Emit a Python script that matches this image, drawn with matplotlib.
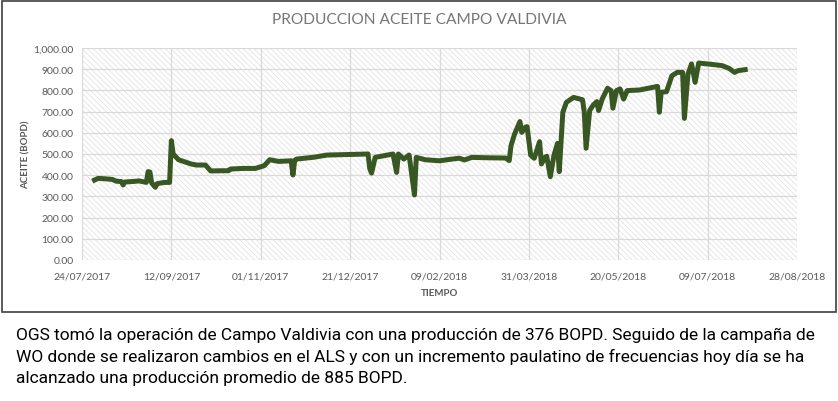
import numpy as np
import pandas as pd
import matplotlib
matplotlib.use('Agg')
import matplotlib.pyplot as plt
import matplotlib.dates as mdates
from matplotlib.patches import Rectangle
from matplotlib.ticker import FuncFormatter, MultipleLocator

# produccion diaria de aceite
fechas = ['2017-07-31', '2017-08-02', '2017-08-06', '2017-08-10', '2017-08-12',
          '2017-08-15', '2017-08-16', '2017-08-17', '2017-08-21', '2017-08-25',
          '2017-08-29', '2017-08-30', '2017-08-31', '2017-09-01', '2017-09-03',
          '2017-09-04', '2017-09-08', '2017-09-11', '2017-09-12', '2017-09-13',
          '2017-09-16', '2017-09-23', '2017-09-26', '2017-10-01', '2017-10-04',
          '2017-10-10', '2017-10-14', '2017-10-15', '2017-10-22', '2017-10-29',
          '2017-11-03', '2017-11-06', '2017-11-11', '2017-11-18', '2017-11-19',
          '2017-11-20', '2017-11-21', '2017-12-01', '2017-12-08', '2017-12-31',
          '2018-01-01', '2018-01-02', '2018-01-04', '2018-01-14', '2018-01-16',
          '2018-01-17', '2018-01-20', '2018-01-23', '2018-01-26', '2018-01-27',
          '2018-02-01', '2018-02-09', '2018-02-16', '2018-02-20', '2018-02-23',
          '2018-02-27', '2018-03-09', '2018-03-18', '2018-03-20', '2018-03-21',
          '2018-03-23', '2018-03-26', '2018-03-27', '2018-03-29', '2018-03-30',
          '2018-04-01', '2018-04-03', '2018-04-06', '2018-04-07', '2018-04-09',
          '2018-04-10', '2018-04-12', '2018-04-14', '2018-04-16', '2018-04-17',
          '2018-04-19', '2018-04-21', '2018-04-25', '2018-04-30', '2018-05-01',
          '2018-05-02', '2018-05-04', '2018-05-06', '2018-05-08', '2018-05-09',
          '2018-05-11', '2018-05-14', '2018-05-16', '2018-05-17', '2018-05-19',
          '2018-05-21', '2018-05-23', '2018-05-25', '2018-06-01', '2018-06-11',
          '2018-06-12', '2018-06-13', '2018-06-16', '2018-06-19', '2018-06-22',
          '2018-06-25', '2018-06-26', '2018-06-28', '2018-06-30', '2018-07-02',
          '2018-07-04', '2018-07-11', '2018-07-17', '2018-07-21', '2018-07-24',
          '2018-07-26', '2018-07-30']
aceite = [377, 385, 383, 380, 372,
          370, 354, 368, 370, 373,
          366, 417, 415, 363, 343,
          360, 366, 366, 563, 500,
          473, 453, 448, 448, 420,
          421, 421, 429, 432, 432,
          445, 473, 465, 468, 401,
          470, 476, 485, 495, 500,
          430, 410, 484, 500, 413,
          500, 476, 495, 307, 484,
          473, 468, 476, 480, 472,
          484, 482, 481, 469, 539,
          594, 653, 602, 626, 629,
          495, 480, 558, 453, 484,
          489, 393, 492, 550, 417,
          697, 744, 767, 756, 697,
          527, 705, 731, 747, 705,
          759, 810, 799, 716, 799,
          807, 759, 799, 802, 819,
          697, 791, 794, 869, 885,
          885, 668, 877, 925, 838,
          929, 923, 917, 904, 885,
          893, 898]

fecha_ini, fecha_fin = '2017-07-24', '2018-08-28'
lineas = ['OGS tomó la operación de Campo Valdivia con una producción de 376 BOPD. Seguido de la campaña de',
          'WO donde se realizaron cambios en el ALS y con un incremento paulatino de frecuencias hoy día se ha',
          'alcanzado una producción promedio de 885 BOPD.']

plt.rcParams['font.family'] = ['Lato', 'DejaVu Sans']
plt.rcParams['hatch.linewidth'] = 0.6

fig = plt.figure(figsize=(8.38, 4.02), dpi=100)
W, H = 838, 402
ax = fig.add_axes([82 / W, 1 - 261 / H, 715 / W, 212 / H])

# marco del grafico
fig.patches.append(Rectangle((1.5 / W, 1 - 313 / H), 834 / W, 311 / H, transform=fig.transFigure,
                             fill=False, edgecolor='#3f3f3f', linewidth=1.2))

x = pd.to_datetime(fechas)
x0, x1 = pd.Timestamp(fecha_ini), pd.Timestamp(fecha_fin)

ax.add_patch(Rectangle((0, 0), 1, 1, transform=ax.transAxes, facecolor='white',
                       edgecolor='#e3e3e3', hatch='\\\\\\\\\\\\', linewidth=0, zorder=0))
ax.plot(x, aceite, color='#385723', linewidth=3.6, solid_joinstyle='round', zorder=3)

ax.set_xlim(x0, x1)
ax.set_ylim(0, 1000)
ax.set_xticks(pd.date_range(x0, x1, freq='50D'))
ax.xaxis.set_major_formatter(mdates.DateFormatter('%d/%m/%Y'))
ax.yaxis.set_major_locator(MultipleLocator(100))
ax.yaxis.set_major_formatter(FuncFormatter(lambda v, p: f'{v:,.2f}'))
ax.grid(True, color='#d9d9d9', linewidth=0.9, zorder=1)
ax.set_axisbelow(True)
for s in ax.spines.values():
    s.set_visible(False)
ax.tick_params(length=0, labelsize=7.5, labelcolor='#595959')
ax.tick_params(axis='x', pad=8)
ax.tick_params(axis='y', pad=6)

ax.set_xlabel('TIEMPO', fontsize=7, fontweight='bold', color='#595959', labelpad=6)
ax.set_ylabel('ACEITE (BOPD)', fontsize=7, fontweight='bold', color='#595959', labelpad=2)
fig.text(419 / W, 1 - 20 / H, 'PRODUCCION ACEITE CAMPO VALDIVIA', ha='center', va='center',
         fontsize=11.2, color='#767676')

for i, linea in enumerate(lineas):
    fig.text(16 / W, 1 - (335 + 22 * i) / H, linea, ha='left', va='center', fontsize=12.5,
             color='black', family=['Roboto', 'DejaVu Sans'])

fig.savefig('out.png', dpi=100)
